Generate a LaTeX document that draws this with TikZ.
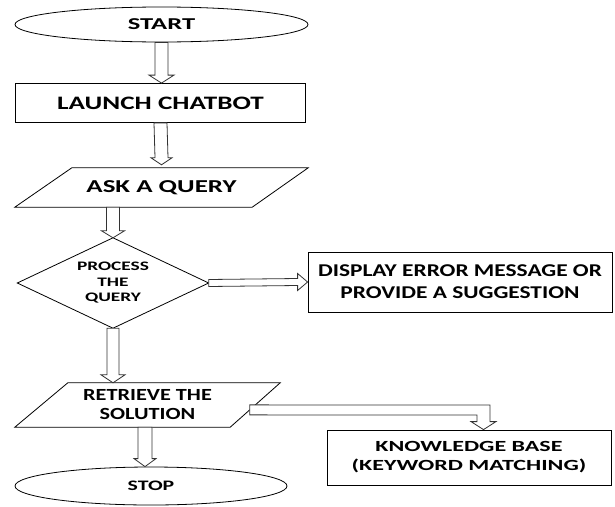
\documentclass[tikz,border=0pt]{standalone}
\usepackage{fontspec}
\setmainfont{Carlito}
\usetikzlibrary{calc,shapes.geometric}
\newcommand\fs[3]{\fontsize{#1}{#2}\selectfont\bfseries\addfontfeatures{FakeStretch=#3}}
\tikzset{
  x=1pt, y=-1pt,
  shp/.style={draw=black, line width=0.8pt, inner sep=0pt, align=center},
  ghost/.style={draw=none, inner sep=0pt, align=center},
  harrow/.style={draw=black!80, line width=0.8pt, fill=white, line join=miter},
}
% vertical down arrow: #1 start, #2 tip, #3 half shaft, #4 half head, #5 head length
\newcommand\darrow[5]{%
  \draw[harrow] ($(#1)+(-#3,0)$) -- ($(#2)+(-#3,-#5)$) -- ($(#2)+(-#4,-#5)$) -- (#2)
    -- ($(#2)+(#4,-#5)$) -- ($(#2)+(#3,-#5)$) -- ($(#1)+(#3,0)$) -- cycle;}
% horizontal right arrow
\newcommand\rarrow[5]{%
  \draw[harrow] ($(#1)+(0,-#3)$) -- ($(#2)+(-#5,-#3)$) -- ($(#2)+(-#5,-#4)$) -- (#2)
    -- ($(#2)+(-#5,#4)$) -- ($(#2)+(-#5,#3)$) -- ($(#1)+(0,#3)$) -- cycle;}
\begin{document}
\begin{tikzpicture}
\useasboundingbox (0,0) rectangle (615,506);
% nodes
\node[shp, ellipse, minimum width=293pt, minimum height=35pt, font=\fs{16.6}{18}{1.6}] (start) at (161.5,24.5) {START};
\node[shp, rectangle, minimum width=290pt, minimum height=39pt, font=\fs{19}{21}{1.43}] (launch) at (160.5,103) {LAUNCH CHATBOT};
\node[ghost, minimum width=293pt, minimum height=39pt, font=\fs{18.2}{20}{1.48}] (ask) at (161.5,187.5) {ASK A QUERY};
\draw[shp] (ask.south west) -- ($(ask.north west)+(57,0)$) -- (ask.north east) -- ($(ask.south east)+(-56,0)$) -- cycle;
\node[ghost, minimum width=191pt, minimum height=90pt, font=\fs{13}{15.5}{1.49}] (proc) at (113,283) {PROCESS\\THE\\QUERY};
\draw[shp] (proc.north) -- (proc.east) -- (proc.south) -- (proc.west) -- cycle;
\node[shp, rectangle, minimum width=304pt, minimum height=60pt, font=\fs{18}{22}{1.3}] (disp) at (460,282) {DISPLAY ERROR MESSAGE OR\\PROVIDE A SUGGESTION};
\node[ghost, minimum width=265pt, minimum height=44pt, font=\fs{17}{19}{1.31}] (retr) at (147.5,405) {RETRIEVE THE\\SOLUTION};
\draw[shp] (retr.south west) -- ($(retr.north west)+(53,0)$) -- (retr.north east) -- ($(retr.south east)+(-50,0)$) -- cycle;
\node[shp, ellipse, minimum width=272pt, minimum height=38pt, font=\fs{14.5}{16}{1.5}] (stop) at (151,486) {STOP};
\node[shp, rectangle, minimum width=284pt, minimum height=55pt, font=\fs{15.5}{19}{1.55}] (kb) at (469,457.5) {KNOWLEDGE BASE\\(KEYWORD MATCHING)};
% connectors
\coordinate (a1s) at (start.south);
\coordinate (a1e) at (start.south |- launch.north);
\darrow{a1s}{a1e}{6.5}{12.5}{8}
\coordinate (a2s) at (launch.south);
\coordinate (a2e) at ($(ask.north)+(0,-3)$);
\darrow{a2s}{a2e}{6.5}{10.5}{7}
\coordinate (a3s) at (ask.south -| proc.north);
\darrow{a3s}{proc.north}{6.5}{11.5}{7}
\coordinate (a4s) at (proc.south);
\coordinate (a4e) at (proc.south |- retr.north);
\darrow{a4s}{a4e}{6}{12}{8}
\coordinate (a5s) at ($(retr.south)+(-2.5,0)$);
\coordinate (a5e) at (a5s |- stop.north);
\darrow{a5s}{a5e}{7}{11}{8}
\rarrow{proc.east}{disp.west}{3.5}{8.5}{10}
% elbow arrow to knowledge base
\coordinate (rtSE) at ($(retr.south east)+(-50,0)$);
\coordinate (kbs) at ($(retr.north east)!0.61!(rtSE)$);
\coordinate (kbc) at (483.5,410);
\coordinate (kbt) at (kbc |- kb.north);
\draw[harrow] ($(kbs)+(0,-5)$) -- ($(kbc)+(6.5,-5)$) -- ($(kbt)+(6.5,-8)$) -- ($(kbt)+(12.5,-8)$) -- (kbt)
  -- ($(kbt)+(-12.5,-8)$) -- ($(kbt)+(-6.5,-8)$) -- ($(kbc)+(-6.5,5)$) -- ($(kbs)+(0,5)$) -- cycle;
\end{tikzpicture}
\end{document}
